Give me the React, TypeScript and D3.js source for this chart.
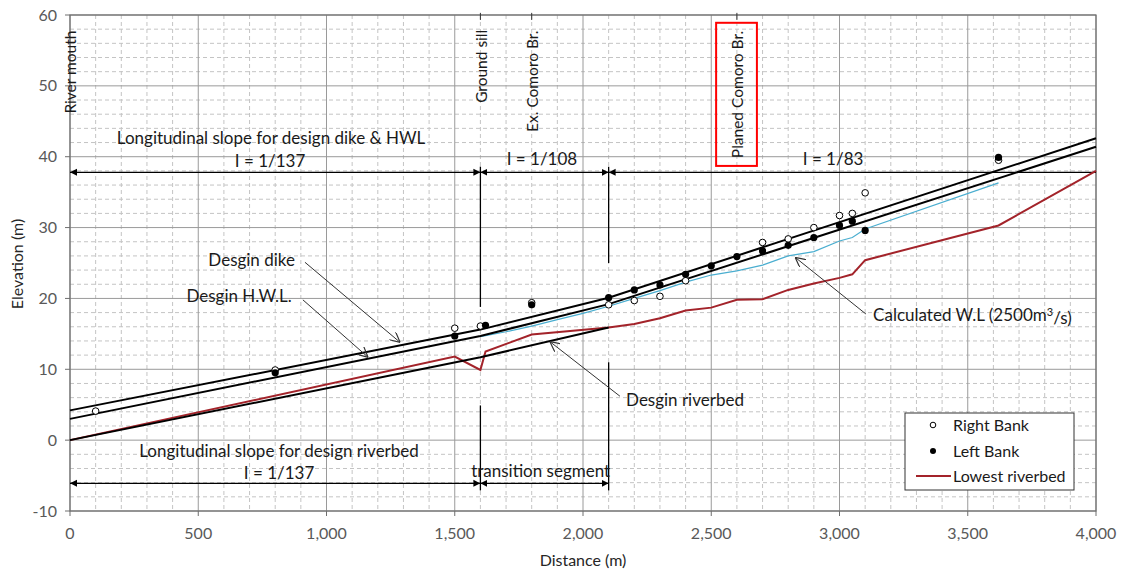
import React from 'react';
import * as d3 from 'd3';

// distance (m), elevation (m)
const designDike: [number, number][] = [[0, 4.2], [1600, 15.6], [2100, 20.1], [4000, 42.6]];
const designHWL: [number, number][] = [[0, 3.0], [1600, 14.7], [2100, 19.2], [4000, 41.4]];
const designRiverbed: [number, number][] = [[0, 0], [1600, 11.7], [2100, 15.9]];

const calculatedWL: [number, number][] = [
  [1600, 14.6], [1700, 15.3], [1800, 16.1], [1900, 17.0], [2000, 17.9], [2100, 18.9],
  [2200, 20.0], [2300, 21.1], [2400, 22.3], [2500, 23.3], [2600, 23.9], [2700, 24.7],
  [2800, 26.0], [2900, 26.6], [3000, 28.1], [3050, 28.6], [3100, 29.8], [3620, 36.3],
];

const lowestRiverbed: [number, number][] = [
  [0, 0], [1500, 11.8], [1600, 9.9], [1620, 12.5], [1800, 14.9], [2100, 15.9],
  [2200, 16.4], [2300, 17.2], [2400, 18.3], [2500, 18.7], [2600, 19.8], [2700, 19.9],
  [2800, 21.2], [2900, 22.1], [3000, 22.9], [3050, 23.4], [3100, 25.4], [3620, 30.3],
  [4000, 38.0],
];

const rightBank: [number, number][] = [
  [100, 4.1], [800, 9.9], [1500, 15.8], [1600, 16.1], [1800, 19.4], [2100, 19.1],
  [2200, 19.7], [2300, 20.3], [2400, 22.5], [2700, 27.9], [2800, 28.4], [2900, 30.0],
  [3000, 31.7], [3050, 32.0], [3100, 34.9], [3620, 39.5],
];

const leftBank: [number, number][] = [
  [800, 9.5], [1500, 14.7], [1620, 16.2], [1800, 19.1], [2100, 20.1], [2200, 21.2],
  [2300, 21.9], [2400, 23.4], [2500, 24.6], [2600, 25.9], [2700, 26.7], [2800, 27.5],
  [2900, 28.6], [3000, 30.3], [3050, 30.9], [3100, 29.6], [3620, 39.9],
];

const xTicks = [0, 500, 1000, 1500, 2000, 2500, 3000, 3500, 4000];
const yTicks = [-10, 0, 10, 20, 30, 40, 50, 60];

// landmarks along the river (distance, label)
const landmarks: [number, string][] = [
  [0, 'River mouth'], [1600, 'Ground sill'], [1800, 'Ex. Comoro Br.'], [2600, 'Planed Comoro Br.'],
];

const W = 1123;
const H = 575;
const FONT = 'Lato, "Open Sans", sans-serif';

const App: React.FC = () => {
  const x = d3.scaleLinear().domain([0, 4000]).range([70, 1096]);
  const y = d3.scaleLinear().domain([-10, 60]).range([511, 15]);

  const line = d3.line<[number, number]>()
    .x(d => x(d[0]))
    .y(d => y(d[1]));

  const minorX = d3.range(0, 4001, 100).filter(v => v % 500 !== 0);
  const minorY = d3.range(-10, 61, 2).filter(v => v % 10 !== 0);

  // dimension lines: [from, to, elevation, arrow at start, arrow at end]
  const dims: [number, number, number, boolean, boolean][] = [
    [0, 1600, 37.8, true, true], [1600, 2100, 37.8, true, true], [2100, 4000, 37.8, true, false],
    [0, 1600, -6.1, true, true], [1600, 2100, -6.1, true, true],
  ];
  // separators: distance, top elev, bottom elev
  const seps: [number, number, number][] = [
    [1600, 38.6, 18.8], [2100, 38.6, 25.0], [1600, 4.9, -7.1], [2100, 11.0, -7.1],
  ];
  // leader arrows: text, text x, text y, anchor, from, to
  const leaders: [string, number, number, string, [number, number], [number, number]][] = [
    ['Desgin dike', 877, 25.4, 'end', [916, 25.1], [1287, 13.8]],
    ['Desgin H.W.L.', 865, 20.3, 'end', [908, 19.8], [1162, 11.7]],
    ['Desgin riverbed', 2168, 5.6, 'start', [2144, 6.2], [1871, 13.9]],
  ];
  // bottom end of the rotated landmark labels (elevation)
  const labelBottom: Record<number, number> = { 0: 46.1, 1600: 47.6, 1800: 43.5, 2600: 39.8 };

  const textStyle = { fontFamily: FONT, fontSize: 17, fill: '#1a1a1a' };
  const legendStyle = { fontFamily: FONT, fontSize: 16, fill: '#1a1a1a' };

  return (
    <svg width={W} height={H} style={{ position: 'absolute', left: 0, top: 0, background: '#fff' }}>
      <defs>
        <marker id="dimEnd" viewBox="0 0 10 10" refX="10" refY="5" markerWidth="7" markerHeight="8"
          markerUnits="userSpaceOnUse" orient="auto">
          <path d="M0,0 L10,5 L0,10 Z" fill="#000" />
        </marker>
        <marker id="dimStart" viewBox="0 0 10 10" refX="10" refY="5" markerWidth="7" markerHeight="8"
          markerUnits="userSpaceOnUse" orient="auto-start-reverse">
          <path d="M0,0 L10,5 L0,10 Z" fill="#000" />
        </marker>
        <marker id="leader" viewBox="0 0 10 10" refX="10" refY="5" markerWidth="10" markerHeight="10"
          markerUnits="userSpaceOnUse" orient="auto">
          <path d="M0,0 L10,5 L0,10" fill="none" stroke="#333" strokeWidth="1.2" />
        </marker>
      </defs>

      {/* grid */}
      <g>
        {minorX.map(v => (
          <line key={'mx' + v} x1={x(v)} x2={x(v)} y1={y(60)} y2={y(-10)}
            stroke="#c4c4c4" strokeDasharray="4,3" strokeWidth={1} />
        ))}
        {minorY.map(v => (
          <line key={'my' + v} x1={x(0)} x2={x(4000)} y1={y(v)} y2={y(v)}
            stroke="#c4c4c4" strokeDasharray="4,3" strokeWidth={1} />
        ))}
        {xTicks.map(v => (
          <line key={'gx' + v} x1={x(v)} x2={x(v)} y1={y(60)} y2={y(-10)} stroke="#9a9a9a" strokeWidth={1} />
        ))}
        {yTicks.map(v => (
          <line key={'gy' + v} x1={x(0)} x2={x(4000)} y1={y(v)} y2={y(v)} stroke="#9a9a9a" strokeWidth={1} />
        ))}
        <rect x={x(0)} y={y(60)} width={x(4000) - x(0)} height={y(-10) - y(60)}
          fill="none" stroke="#6e6e6e" strokeWidth={1.2} />
      </g>

      {/* axes */}
      <g style={{ fontFamily: FONT, fontSize: 16, fill: '#595959' }}>
        {yTicks.map(v => (
          <g key={'yt' + v}>
            <line x1={x(0) - 5} x2={x(0)} y1={y(v)} y2={y(v)} stroke="#6e6e6e" />
            <text x={x(0) - 13} y={y(v)} dy="0.35em" textAnchor="end">{v}</text>
          </g>
        ))}
        {xTicks.map(v => (
          <g key={'xt' + v}>
            <line x1={x(v)} x2={x(v)} y1={y(-10)} y2={y(-10) + 5} stroke="#6e6e6e" />
            <text x={x(v)} y={y(-10) + 22} dy="0.35em" textAnchor="middle">{d3.format(',')(v)}</text>
          </g>
        ))}
        <text x={x(2000)} y={560} dy="0.35em" textAnchor="middle" fill="#262626">Distance (m)</text>
        <text transform={`translate(17,264) rotate(-90)`} dy="0.35em" textAnchor="middle"
          fill="#262626">Elevation (m)</text>
      </g>

      {/* landmark ticks and labels */}
      {landmarks.slice(1).map(([d]) => (
        <line key={'lt' + d} x1={x(d)} x2={x(d)} y1={y(60.3)} y2={y(59.3)} stroke="#333" strokeWidth={1} />
      ))}
      {landmarks.map(([d, label]) => (
        <text key={'ll' + d} transform={`translate(${x(d) + 1},${y(labelBottom[d])}) rotate(-90)`}
          dy="0.35em" textAnchor="start" style={{ ...textStyle, fontSize: 15.5 }}>{label}</text>
      ))}
      <rect x={x(2519)} y={y(58.9)} width={x(2678) - x(2519)} height={y(38.7) - y(58.9)}
        fill="none" stroke="#ff0000" strokeWidth={2} />

      {/* dimension lines */}
      {seps.map(([d, t, b], i) => (
        <line key={'sep' + i} x1={x(d)} x2={x(d)} y1={y(t)} y2={y(b)} stroke="#000" strokeWidth={1.3} />
      ))}
      {dims.map(([a, b, e, s, en], i) => (
        <line key={'dim' + i} x1={x(a)} x2={x(b)} y1={y(e)} y2={y(e)} stroke="#000" strokeWidth={1.3}
          markerStart={s ? 'url(#dimStart)' : undefined} markerEnd={en ? 'url(#dimEnd)' : undefined} />
      ))}
      <g style={textStyle} textAnchor="middle">
        <text x={x(784)} y={y(42.6)} dy="0.35em">Longitudinal slope for design dike &amp; HWL</text>
        <text x={x(780)} y={y(39.4)} dy="0.35em">I = 1/137</text>
        <text x={x(1840)} y={y(39.6)} dy="0.35em">I = 1/108</text>
        <text x={x(2975)} y={y(39.6)} dy="0.35em">I = 1/83</text>
        <text x={x(815)} y={y(-1.5)} dy="0.35em">Longitudinal slope for design riverbed</text>
        <text x={x(815)} y={y(-4.6)} dy="0.35em">I = 1/137</text>
        <text x={x(1835)} y={y(-4.3)} dy="0.35em">transition segment</text>
      </g>

      {/* series */}
      <path d={line(lowestRiverbed) || ''} fill="none" stroke="#a3232a" strokeWidth={2} />
      <path d={line(calculatedWL) || ''} fill="none" stroke="#4aaed0" strokeWidth={1.2} />
      <path d={line(designRiverbed) || ''} fill="none" stroke="#000" strokeWidth={2} />
      <path d={line(designHWL) || ''} fill="none" stroke="#000" strokeWidth={2} />
      <path d={line(designDike) || ''} fill="none" stroke="#000" strokeWidth={2} />

      {rightBank.map(([d, e], i) => (
        <circle key={'rb' + i} cx={x(d)} cy={y(e)} r={3.3} fill="#fff" stroke="#000" strokeWidth={1} />
      ))}
      {leftBank.map(([d, e], i) => (
        <circle key={'lb' + i} cx={x(d)} cy={y(e)} r={3.6} fill="#000" />
      ))}

      {/* leaders */}
      {leaders.map(([t, tx, ty, anchor, from, to]) => (
        <g key={t}>
          <line x1={x(from[0])} y1={y(from[1])} x2={x(to[0])} y2={y(to[1])} stroke="#333" strokeWidth={1}
            markerEnd="url(#leader)" />
          <text x={x(tx)} y={y(ty)} dy="0.35em" textAnchor={anchor} style={textStyle}>{t}</text>
        </g>
      ))}
      <line x1={x(3103)} y1={y(17.8)} x2={x(2827)} y2={y(25.8)} stroke="#333" strokeWidth={1} markerEnd="url(#leader)" />
      <text x={x(3131)} y={y(17.6)} dy="0.35em" style={textStyle}>
        Calculated W.L (2500m<tspan dy="-0.45em" fontSize={11}>3</tspan><tspan dy="0.45em">/s)</tspan>
      </text>

      {/* legend */}
      <g>
        <rect x={905} y={413} width={169} height={77} fill="#fff" stroke="#333" strokeWidth={1} />
        <circle cx={933} cy={425} r={2.8} fill="#fff" stroke="#000" />
        <text x={953} y={425} dy="0.35em" style={legendStyle}>Right Bank</text>
        <circle cx={933} cy={451} r={3} fill="#000" />
        <text x={953} y={451} dy="0.35em" style={legendStyle}>Left Bank</text>
        <line x1={916} x2={951} y1={476} y2={476} stroke="#a3232a" strokeWidth={2} />
        <text x={953} y={476} dy="0.35em" style={legendStyle}>Lowest riverbed</text>
      </g>
    </svg>
  );
};

export default App;
